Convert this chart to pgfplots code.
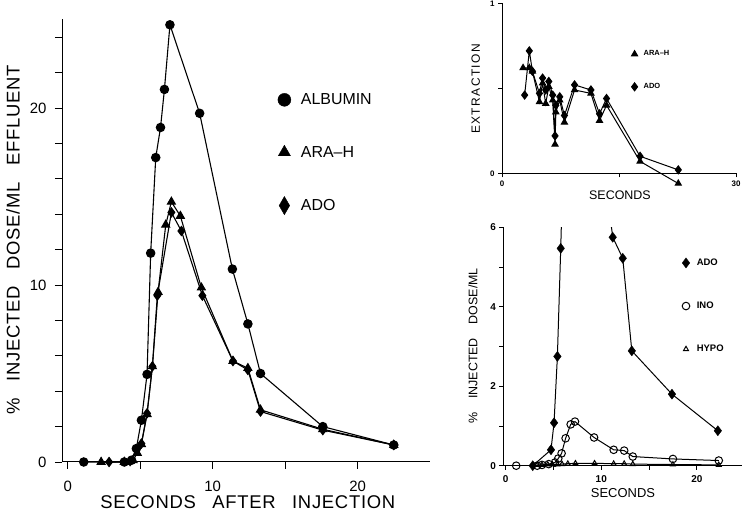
\documentclass[border=0pt]{standalone}
\usepackage{fontspec}
\setmainfont{Liberation Sans}
\newfontfamily\spacedA[LetterSpace=4,WordSpace=2.8]{Liberation Sans}
\newfontfamily\spacedC[LetterSpace=12]{Liberation Sans}
\newfontfamily\spacedD[WordSpace=4]{Liberation Sans}
\usepackage{pgfplots}
\pgfplotsset{compat=1.18}

\pgfplotsset{
  oldplot/.style={
    scale only axis,
    axis lines*=left,
    anchor=south west,
    tick align=outside,
    tick style={black, line width=0.8bp},
    axis line style={line width=1bp},
    /pgf/number format/assume math mode=true,
    legend cell align=left,
    legend image code/.code={\draw[##1,only marks] plot coordinates {(0bp,0bp)};},
  },
}

\begin{document}
\begin{tikzpicture}[x=1bp,y=1bp]
\useasboundingbox (0,0) rectangle (742,512);

% main panel
\begin{axis}[oldplot,
  at={(62bp,50bp)}, width=368bp, height=442.5bp,
  xmin=-0.4, xmax=25, ymin=0, ymax=25,
  xtick={0,10,20}, minor xtick={5,15},
  ytick={0,10,20}, minor ytick={2,4,...,24},
  major tick length=7bp, minor tick length=7bp,
  ticklabel style={font=\fontsize{15}{15}\selectfont},
  xticklabel style={yshift=-9bp},
  yticklabel style={xshift=-5bp},
  xlabel={SECONDS AFTER INJECTION},
  ylabel={\% INJECTED DOSE/ML EFFLUENT},
  xlabel style={at={(axis description cs:0.505,-0.09)}, anchor=center, font=\spacedA\fontsize{18.5}{18.5}\selectfont},
  ylabel style={at={(axis description cs:-0.133,0.502)}, anchor=center, font=\spacedA\fontsize{18.5}{18.5}\selectfont},
  clip=false,
  legend style={at={(axis description cs:0.578,0.842)}, anchor=north west, draw=none, fill=none,
    font=\fontsize{16}{16}\selectfont, row sep=36bp, column sep=8bp},
]
\addplot[black, line width=1.1bp, mark=*, mark size=4.2bp, forget plot] coordinates {
  (1.1,0) (3.9,0) (4.4,0.1) (4.73,0.76) (5.08,2.36) (5.47,4.95) (5.72,11.8)
  (6.07,17.2) (6.4,18.9) (6.67,21.05) (7.05,24.7) (9.1,19.7) (11.36,10.9)
  (12.43,7.8) (13.3,5.0) (17.6,2.0) (22.5,0.96)};
\addplot[black, line width=1.1bp, mark=triangle*, mark size=4.5bp, forget plot] coordinates {
  (2.3,0) (3.9,0) (4.5,0.1) (4.8,0.5) (5.08,1.0) (5.47,2.7) (5.84,5.4) (6.23,9.6)
  (6.76,13.4) (7.15,14.7) (7.77,13.9) (9.22,9.85) (11.4,5.7) (12.43,5.3)
  (13.3,2.95) (17.6,1.85) (22.5,0.96)};
\addplot[black, line width=1.1bp, mark=diamond*, mark size=4.5bp, forget plot] coordinates {
  (2.85,0) (4.3,0.05) (4.75,0.7) (5.08,1.04) (5.47,2.75) (5.84,5.4) (6.18,9.4)
  (7.15,14.1) (7.84,13.05) (9.29,9.4) (11.4,5.7) (12.43,5.2) (13.3,2.85)
  (17.6,1.8) (22.5,0.96)};
\addlegendimage{black, mark=*, mark size=6.5bp}
\addlegendentry{ALBUMIN}
\addlegendimage{black, mark=triangle*, mark size=7bp}
\addlegendentry{ARA--H}
\addlegendimage{black, mark=diamond*, mark size=7bp, mark options={yscale=1.3}}
\addlegendentry{ADO}
\end{axis}

% extraction panel
\begin{axis}[oldplot,
  at={(502bp,338.7bp)}, width=234bp, height=170bp,
  xmin=0, xmax=30, ymin=0, ymax=1,
  xtick={0,30}, minor xtick={15},
  ytick={0,1}, minor ytick={0.5},
  major tick length=4bp, minor tick length=4bp,
  ticklabel style={font=\bfseries\fontsize{8}{8}\selectfont},
  xlabel={SECONDS}, ylabel={EXTRACTION},
  xlabel style={at={(axis description cs:0.504,-0.128)}, anchor=center, font=\fontsize{12.5}{12.5}\selectfont},
  ylabel style={at={(axis description cs:-0.112,0.496)}, anchor=center, font=\spacedC\fontsize{12}{12}\selectfont},
  clip=false,
  legend style={at={(axis description cs:0.54,0.745)}, anchor=north west, draw=none, fill=none,
    font=\bfseries\fontsize{7.5}{7.5}\selectfont, row sep=22bp, column sep=4bp},
]
\addplot[black, line width=1bp, mark=triangle*, mark size=3.5bp] coordinates {
  (2.7,0.62) (3.5,0.62) (3.9,0.60) (4.8,0.42) (5.2,0.53) (5.6,0.41) (6.0,0.51)
  (6.5,0.43) (6.8,0.17) (6.9,0.36) (7.4,0.43) (8.0,0.30) (9.3,0.49) (11.4,0.47)
  (12.5,0.31) (13.4,0.40) (17.7,0.07) (22.6,-0.06)};
\addlegendentry{ARA--H}
\addplot[black, line width=1bp, mark=diamond*, mark size=4bp] coordinates {
  (2.9,0.46) (3.5,0.72) (3.9,0.60) (4.8,0.47) (5.2,0.56) (5.6,0.49) (6.0,0.54)
  (6.5,0.46) (6.8,0.22) (6.9,0.40) (7.4,0.45) (8.0,0.34) (9.3,0.52) (11.4,0.49)
  (12.5,0.35) (13.4,0.44) (17.7,0.10) (22.6,0.02)};
\addlegendentry{ADO}
\end{axis}

% metabolite panel
\begin{axis}[oldplot,
  at={(503.3bp,46.3bp)}, width=238.4bp, height=238.4bp,
  xmin=-0.25, xmax=24.7, ymin=0, ymax=6,
  xtick={0,10,20}, minor xtick={5,15},
  ytick={0,2,4,6}, minor ytick={1,3,5},
  major tick length=4bp, minor tick length=4bp,
  ticklabel style={font=\bfseries\fontsize{10}{10}\selectfont},
  xticklabel style={yshift=-2bp},
  xlabel={SECONDS}, ylabel={\% INJECTED DOSE/ML},
  xlabel style={at={(axis description cs:0.502,-0.115)}, anchor=center, font=\fontsize{13}{13}\selectfont},
  ylabel style={at={(axis description cs:-0.127,0.502)}, anchor=center, font=\spacedD\fontsize{12.5}{12.5}\selectfont},
  legend style={at={(axis description cs:0.737,0.885)}, anchor=north west, draw=none, fill=none,
    font=\bfseries\fontsize{9.5}{9.5}\selectfont, row sep=31bp, column sep=5bp},
]
% ADO runs off the top of this panel; the line keeps all points, marks only those in view
\addplot[black, line width=1bp, forget plot] coordinates {
  (2.83,0) (4.74,0.40) (5.06,1.08) (5.41,2.75) (5.76,5.47) (6.2,9.4) (7.15,14.1)
  (7.84,13.0) (9.3,9.4) (11.2,5.75) (12.25,5.22) (13.2,2.89) (17.4,1.80) (22.2,0.88)};
\addplot[black, only marks, mark=diamond*, mark size=5bp] coordinates {
  (2.83,0) (4.74,0.40) (5.06,1.08) (5.41,2.75) (5.76,5.47)
  (11.2,5.75) (12.25,5.22) (13.2,2.89) (17.4,1.80) (22.2,0.88)};
\addlegendentry{ADO}
\addplot[black, line width=1bp, mark=o, mark size=3.8bp] coordinates {
  (1.1,0) (3.3,0) (3.8,0.02) (4.5,0.04) (5.16,0.08) (5.5,0.18) (5.85,0.31)
  (6.27,0.69) (6.8,1.04) (7.25,1.11) (9.25,0.71) (11.3,0.40) (12.4,0.38)
  (13.3,0.23) (17.5,0.17) (22.3,0.13)};
\addlegendentry{INO}
\addplot[black, line width=1bp, mark=triangle, mark size=2.8bp] coordinates {
  (3.3,0.02) (3.8,0.02) (4.4,0.03) (4.9,0.03) (5.4,0.03) (5.9,0.04) (6.5,0.05)
  (7.3,0.06) (9.3,0.06) (11.3,0.05) (12.4,0.05) (13.3,0.04) (17.5,0.03) (22.3,0.02)};
\addlegendentry{HYPO}
\end{axis}
\end{tikzpicture}
\end{document}
